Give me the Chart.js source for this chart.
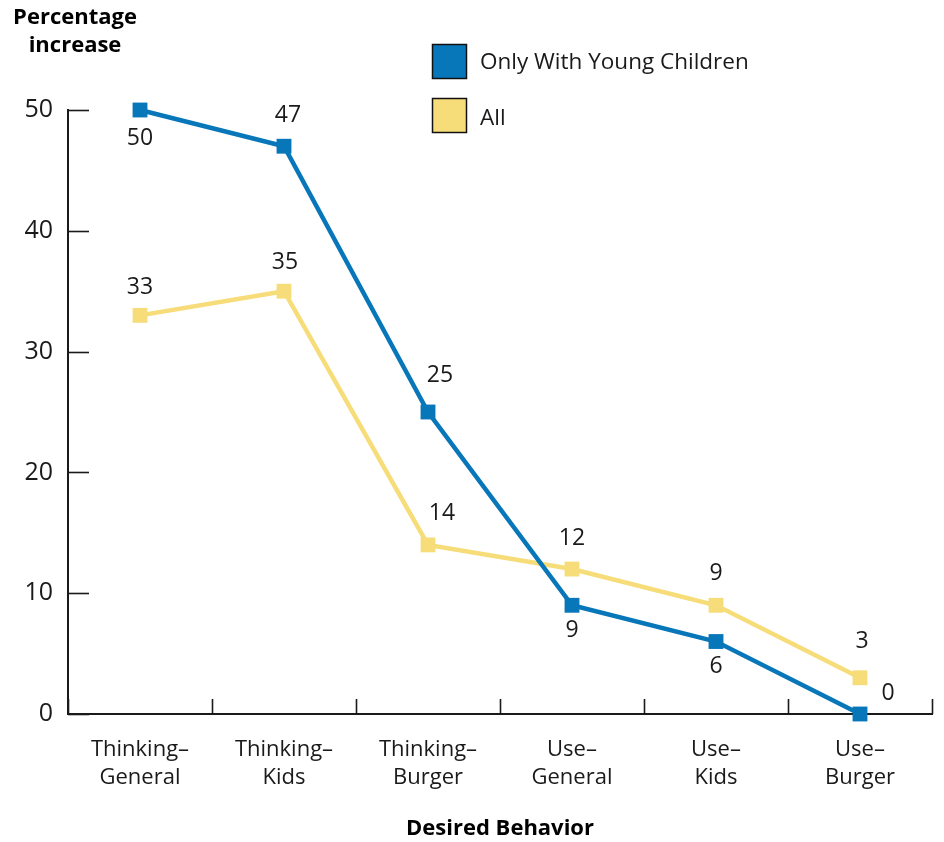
<!DOCTYPE html>
<html>
<head>
<meta charset="utf-8">
<script src="https://cdn.jsdelivr.net/npm/chart.js@4/dist/chart.umd.min.js"></script>
<style>
  html, body { margin: 0; padding: 0; background: #fff; }
  #wrap { position: relative; width: 944px; height: 842px; }
</style>
</head>
<body>
<div id="wrap"><canvas id="c" width="944" height="842"></canvas></div>
<script>
// ---- data ----
const categories = [
  ['Thinking–', 'General'],
  ['Thinking–', 'Kids'],
  ['Thinking–', 'Burger'],
  ['Use–', 'General'],
  ['Use–', 'Kids'],
  ['Use–', 'Burger']
];
const youngChildren = [50, 47, 25, 9, 6, 0];
const allFamilies = [33, 35, 14, 12, 9, 3];
const seriesNames = ['Only With Young Children', 'All'];
const yTicks = [0, 10, 20, 30, 40, 50];
const yTitle = ['Percentage', 'increase'];
const xTitle = 'Desired Behavior';

// ---- style ----
const BLUE = '#0877b9';
const YELLOW = '#f6dd79';
const INK = '#1a1a1a';
const FONT = "'Open Sans', 'Noto Sans', sans-serif";
// label offsets (style only) per point
const blueLabelOffsets = [[0, 28], [4, -31], [12, -37], [0, 25], [0, 25], [28, -21]];
const yellowLabelOffsets = [[0, -28], [1, -29], [14, -31], [0, -31], [0, -32], [2, -36]];

const innerTicks = {
  id: 'innerTicks',
  afterDraw(chart) {
    const ctx = chart.ctx;
    const x = chart.scales.x, y = chart.scales.y;
    const area = chart.chartArea;
    ctx.save();
    ctx.strokeStyle = INK;
    ctx.lineWidth = 1.6;
    yTicks.forEach(v => {
      const py = Math.round(y.getPixelForValue(v)) + 0.5;
      ctx.beginPath();
      ctx.moveTo(area.left, py);
      ctx.lineTo(area.left + 21, py);
      ctx.stroke();
    });
    const n = categories.length;
    const step = x.getPixelForTick(1) - x.getPixelForTick(0);
    for (let i = 0; i <= n; i++) {
      const px = Math.round(x.getPixelForTick(0) + (i - 0.5) * step) + 0.5;
      ctx.beginPath();
      ctx.moveTo(px, area.bottom);
      ctx.lineTo(px, area.bottom - 15);
      ctx.stroke();
    }
    ctx.restore();
  }
};

const valueLabels = {
  id: 'valueLabels',
  afterDatasetsDraw(chart) {
    const ctx = chart.ctx;
    ctx.save();
    ctx.font = '23px ' + FONT;
    ctx.fillStyle = INK;
    ctx.textAlign = 'center';
    ctx.textBaseline = 'middle';
    const offs = [blueLabelOffsets, yellowLabelOffsets];
    chart.data.datasets.forEach((ds, di) => {
      const meta = chart.getDatasetMeta(di);
      meta.data.forEach((pt, i) => {
        const o = offs[di][i];
        ctx.fillText(String(ds.data[i]), pt.x + o[0], pt.y + o[1]);
      });
    });
    ctx.restore();
  }
};

const extras = {
  id: 'extras',
  afterDraw(chart) {
    const ctx = chart.ctx;
    ctx.save();
    ctx.font = 'bold 22px ' + FONT;
    ctx.fillStyle = '#000';
    ctx.textAlign = 'center';
    ctx.textBaseline = 'middle';
    ctx.fillText(yTitle[0], 75, 18);
    ctx.fillText(yTitle[1], 75, 46);
    ctx.font = '22.5px ' + FONT;
    ctx.textAlign = 'left';
    const textY = [63, 119];
    chart.data.datasets.forEach((ds, i) => {
      const bx = 432, by = 44 + i * 54;
      ctx.fillStyle = ds.backgroundColor;
      ctx.fillRect(bx, by, 35, 35);
      ctx.strokeStyle = '#111';
      ctx.lineWidth = 1.5;
      ctx.strokeRect(bx + 0.5, by + 0.5, 34, 34);
      ctx.fillStyle = INK;
      ctx.fillText(ds.label, 480, textY[i]);
    });
    ctx.restore();
  }
};

new Chart(document.getElementById('c'), {
  type: 'line',
  data: {
    labels: categories,
    datasets: [
      {
        label: seriesNames[0],
        data: youngChildren,
        borderColor: BLUE,
        backgroundColor: BLUE,
        borderWidth: 4.5,
        pointStyle: 'rect',
        pointRadius: 10.5,
        pointBorderWidth: 0,
        tension: 0,
        clip: false
      },
      {
        label: seriesNames[1],
        data: allFamilies,
        borderColor: YELLOW,
        backgroundColor: YELLOW,
        borderWidth: 4.5,
        pointStyle: 'rect',
        pointRadius: 10.5,
        pointBorderWidth: 0,
        tension: 0,
        clip: false
      }
    ]
  },
  options: {
    responsive: false,
    animation: false,
    devicePixelRatio: 1,
    layout: { padding: { top: 110, right: 12, left: 0, bottom: 0 } },
    plugins: {
      legend: { display: false },
      tooltip: { enabled: false },
      title: { display: false }
    },
    scales: {
      x: {
        offset: true,
        grid: { display: false, drawTicks: false },
        border: { display: true, color: INK, width: 2 },
        ticks: {
          color: INK,
          font: { family: FONT, size: 22, lineHeight: 1.27 },
          padding: 22,
          maxRotation: 0,
          autoSkip: false
        },
        title: {
          display: true,
          text: xTitle,
          color: '#000',
          font: { family: FONT, size: 22, weight: 'bold' },
          padding: { top: 0, bottom: 0 }
        },
        afterFit(scale) { scale.height = 128; }
      },
      y: {
        min: 0,
        max: 50,
        afterBuildTicks(scale) { scale.ticks = yTicks.map(v => ({ value: v })); },
        grid: { display: false, drawTicks: false },
        border: { display: true, color: INK, width: 2 },
        ticks: {
          color: INK,
          font: { family: FONT, size: 25 },
          padding: 15
        },
        afterFit(scale) { scale.width = 68; }
      }
    }
  },
  plugins: [innerTicks, valueLabels, extras]
});
</script>
</body>
</html>
